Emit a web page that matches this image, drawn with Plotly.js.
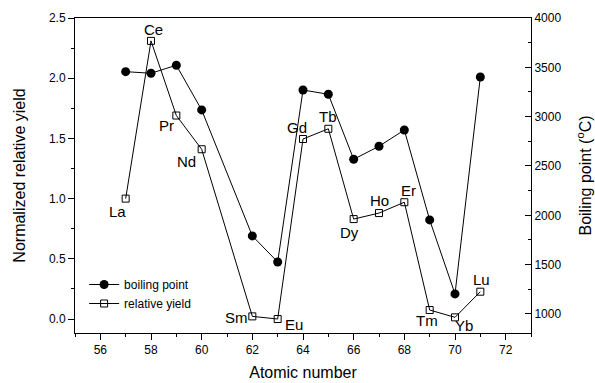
<!DOCTYPE html>
<html>
<head>
<meta charset="utf-8">
<script src="https://cdn.plot.ly/plotly-3.0.1.min.js"></script>
<style>html,body{margin:0;padding:0;background:#fff;}#chart{width:595px;height:383px;}</style>
</head>
<body>
<div id="chart"></div>
<script>
// Data
const atomicNumber = [57, 58, 59, 60, 62, 63, 64, 65, 66, 67, 68, 69, 70, 71];
const elements = ["La", "Ce", "Pr", "Nd", "Sm", "Eu", "Gd", "Tb", "Dy", "Ho", "Er", "Tm", "Yb", "Lu"];
const boilingPoint = [3456, 3440, 3521, 3068, 1791, 1527, 3270, 3227, 2568, 2700, 2865, 1953, 1203, 3402];
const relativeYield = [1.00, 2.31, 1.69, 1.41, 0.022, 0.0, 1.495, 1.58, 0.83, 0.88, 0.97, 0.075, 0.014, 0.227];

// label offsets (pixels) relative to each relative-yield point
const labelDx = [-8, 2, -10, -15, -16, 16, -6, 0, -4, 0, 4, -3, 9, 1];
const labelDy = [-13, 11, -10, -12, -1, -5, 12, 12, -13, 13, 12, -10, -8, 12];

const FONT = "Liberation Sans, Arial, sans-serif";

const traces = [
  {
    x: atomicNumber, y: boilingPoint, yaxis: "y2", name: "boiling point",
    mode: "lines+markers", type: "scatter",
    line: {color: "#000", width: 1},
    marker: {symbol: "circle", size: 9, color: "#000"}
  },
  {
    x: atomicNumber, y: relativeYield, yaxis: "y", name: "relative yield",
    mode: "lines+markers", type: "scatter",
    line: {color: "#000", width: 1},
    marker: {symbol: "square-open", size: 7, color: "#000", line: {width: 1}}
  }
];

const annotations = elements.map((el, i) => ({
  x: atomicNumber[i], y: relativeYield[i], xref: "x", yref: "y",
  text: el, showarrow: false, xshift: labelDx[i], yshift: labelDy[i],
  font: {family: FONT, size: 15, color: "#000"}
}));

const layout = {
  width: 595, height: 383,
  margin: {l: 75, r: 64, t: 18, b: 50},
  paper_bgcolor: "#fff", plot_bgcolor: "#fff",
  font: {family: FONT, size: 12, color: "#000"},
  showlegend: true,
  legend: {x: 0.02, y: 0.2, xanchor: "left", yanchor: "top",
           bgcolor: "rgba(0,0,0,0)", font: {family: FONT, size: 12, color: "#000"},
           tracegroupgap: 0, itemwidth: 30},
  xaxis: {
    range: [55, 73], dtick: 2, tick0: 56,
    showline: true, linecolor: "#000", linewidth: 1, mirror: true,
    ticks: "outside", ticklen: 6, tickcolor: "#000",
    minor: {dtick: 1, ticks: "outside", ticklen: 3, tickcolor: "#000"},
    showgrid: false, zeroline: false,
    tickfont: {family: FONT, size: 12, color: "#000"},
    title: {text: "Atomic number", font: {family: FONT, size: 16, color: "#000"}, standoff: 10}
  },
  yaxis: {
    range: [-0.116, 2.5], dtick: 0.5, tick0: 0, tickformat: ".1f",
    showline: true, linecolor: "#000", linewidth: 1,
    ticks: "outside", ticklen: 6, tickcolor: "#000",
    minor: {dtick: 0.25, ticks: "outside", ticklen: 3, tickcolor: "#000"},
    showgrid: false, zeroline: false,
    tickfont: {family: FONT, size: 12, color: "#000"},
    title: {text: "Normalized relative yield", font: {family: FONT, size: 16, color: "#000"}, standoff: 19}
  },
  yaxis2: {
    overlaying: "y", side: "right",
    range: [807, 4000], dtick: 500, tick0: 1000,
    showline: true, linecolor: "#000", linewidth: 1,
    ticks: "inside", ticklen: 6, tickcolor: "#000",
    minor: {dtick: 250, ticks: "inside", ticklen: 3, tickcolor: "#000"},
    showgrid: false, zeroline: false,
    tickfont: {family: FONT, size: 12, color: "#000"},
    title: {text: "Boiling point (<sup>o</sup>C)", font: {family: FONT, size: 16, color: "#000"}, standoff: 19}
  },
  annotations: annotations
};

Plotly.newPlot("chart", traces, layout, {displayModeBar: false, staticPlot: true});
</script>
</body>
</html>
